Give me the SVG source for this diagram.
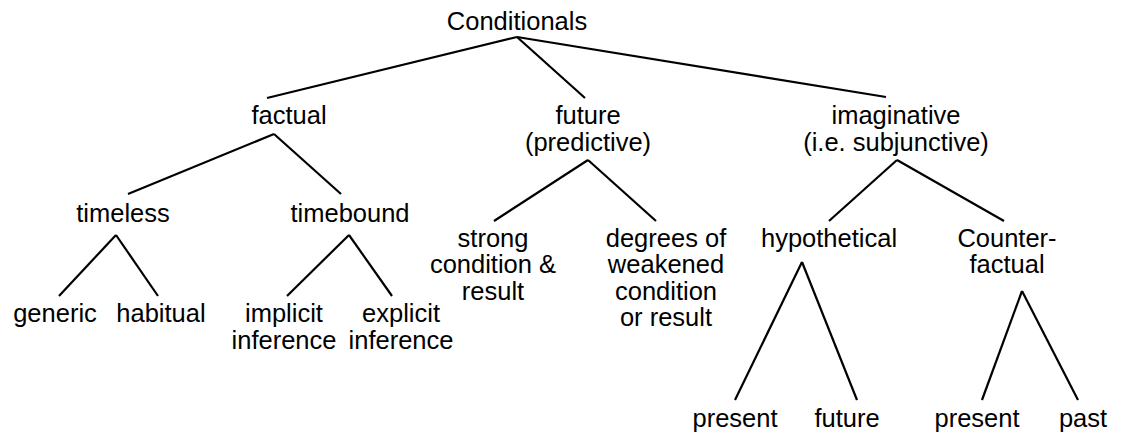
<svg xmlns="http://www.w3.org/2000/svg" width="1124" height="435" viewBox="0 0 1124 435">
<style>
text{font-family:"Liberation Sans",Arial,sans-serif;font-size:25.5px;fill:#000;text-anchor:middle}
.c line{stroke:#000;stroke-width:2.2;stroke-linecap:butt}
</style>
<rect width="1124" height="435" fill="#fff"/>
<g class="c" id="connectors">
<line x1="517" y1="37" x2="267" y2="98"/>
<line x1="517" y1="37" x2="585" y2="98"/>
<line x1="517" y1="37" x2="886" y2="97"/>
<line x1="274" y1="134" x2="128" y2="194"/>
<line x1="274" y1="134" x2="341" y2="194"/>
<line x1="588" y1="160" x2="494" y2="221"/>
<line x1="588" y1="160" x2="656" y2="221"/>
<line x1="897" y1="160" x2="829" y2="221"/>
<line x1="897" y1="160" x2="1004" y2="221"/>
<line x1="116" y1="235" x2="59" y2="296"/>
<line x1="116" y1="235" x2="158" y2="296"/>
<line x1="349" y1="235" x2="287" y2="296"/>
<line x1="349" y1="235" x2="392" y2="296"/>
<line x1="802" y1="262" x2="735" y2="400"/>
<line x1="802" y1="262" x2="857" y2="400"/>
<line x1="1022" y1="291" x2="982" y2="400"/>
<line x1="1022" y1="291" x2="1078" y2="400"/>
</g>
<g id="n-conditionals"><text x="517" y="30">Conditionals</text></g>
<g id="n-factual"><text x="289" y="124">factual</text></g>
<g id="n-future"><text x="588" y="124">future</text><text x="588" y="151">(predictive)</text></g>
<g id="n-imaginative"><text x="896" y="124">imaginative</text><text x="896" y="151">(i.e. subjunctive)</text></g>
<g id="n-timeless"><text x="123" y="222">timeless</text></g>
<g id="n-timebound"><text x="350" y="222">timebound</text></g>
<g id="n-strong"><text x="493" y="247">strong</text><text x="493" y="273">condition &amp;</text><text x="493" y="300">result</text></g>
<g id="n-weakened"><text x="666" y="247">degrees of</text><text x="666" y="273">weakened</text><text x="666" y="300">condition</text><text x="666" y="326">or result</text></g>
<g id="n-hypothetical"><text x="829" y="247">hypothetical</text></g>
<g id="n-counterfactual"><text x="1007" y="247">Counter-</text><text x="1007" y="273">factual</text></g>
<g id="n-generic"><text x="55" y="322">generic</text></g>
<g id="n-habitual"><text x="161" y="322">habitual</text></g>
<g id="n-implicit"><text x="284" y="322">implicit</text><text x="284" y="349">inference</text></g>
<g id="n-explicit"><text x="401" y="322">explicit</text><text x="401" y="349">inference</text></g>
<g id="n-hyp-present"><text x="735" y="427">present</text></g>
<g id="n-hyp-future"><text x="847" y="427">future</text></g>
<g id="n-cf-present"><text x="977" y="427">present</text></g>
<g id="n-cf-past"><text x="1083" y="427">past</text></g>
</svg>
